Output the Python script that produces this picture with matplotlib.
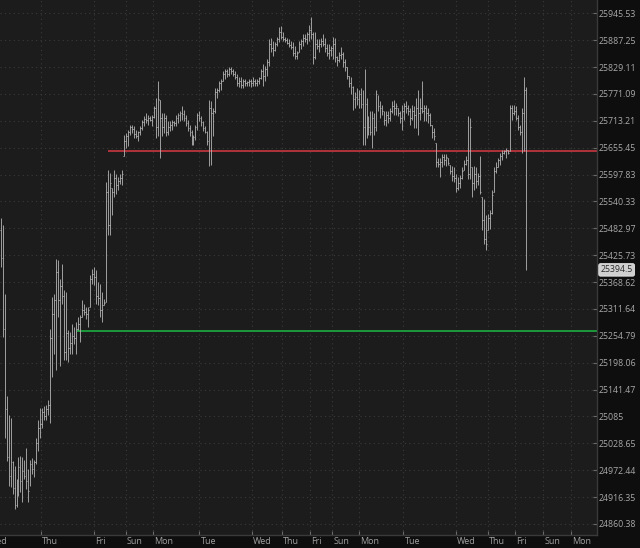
import numpy as np
import matplotlib
matplotlib.use("Agg")
import matplotlib.pyplot as plt
from matplotlib.ticker import FixedLocator, FixedFormatter, NullLocator
from matplotlib.transforms import blended_transform_factory

plt.rcParams["font.family"] = ["Open Sans", "DejaVu Sans"]

# --- OHLC data (one bar per slot) ---
highs = [
    25505, 25490, 25343, 25129, 25088, 25082, 24991, 24982, 24955, 25001,
    25003, 25001, 24993, 25018, 24976, 24993, 24997, 24993, 25039, 25078,
    25103, 25103, 25107, 25110, 25120, 25269, 25337, 25343, 25418, 25415,
    25375, 25407, 25352, 25347, 25267, 25262, 25279, 25273, 25284, 25294,
    25299, 25330, 25322, 25316, 25316, 25384, 25396, 25401, 25394, 25369,
    25364, 25347, 25333,
    25581, 25607, 25602, 25570, 25607, 25598, 25592, 25598, 25607,
    25683, 25687, 25694, 25704, 25704, 25702, 25694, 25692, 25702, 25715,
    25723, 25730, 25725, 25723, 25725, 25745, 25762, 25800, 25757, 25730,
    25730, 25725, 25713, 25713, 25715, 25713, 25725, 25730, 25734, 25745,
    25736, 25725, 25715, 25704, 25694, 25683, 25704, 25730, 25734, 25723,
    25713, 25702, 25692, 25757, 25755, 25740, 25783,
    25783, 25800, 25804, 25821, 25825, 25825, 25830, 25830, 25825, 25821,
    25815, 25808, 25808, 25804, 25804, 25800, 25804, 25804, 25808, 25804,
    25804, 25808, 25825, 25836, 25832, 25847, 25889, 25893, 25885, 25883,
    25895, 25915, 25917, 25906, 25895, 25893, 25889, 25885, 25883, 25874,
    25864, 25885, 25889, 25900, 25900, 25904, 25921, 25938, 25906, 25904,
    25889, 25889, 25893, 25900, 25893, 25878, 25878, 25874, 25895, 25893,
    25853, 25861, 25872, 25861, 25847, 25830, 25810, 25808, 25789,
    25776, 25783, 25779, 25783, 25779, 25825, 25762, 25723, 25734, 25734,
    25730, 25779, 25768, 25755, 25747, 25734, 25734, 25734, 25740, 25755,
    25757, 25751, 25740, 25734, 25747, 25751, 25755, 25747, 25740, 25747,
    25745, 25762, 25779,
    25762, 25800, 25747, 25747, 25740, 25730, 25704, 25698, 25666, 25634,
    25634, 25641, 25641, 25641, 25634, 25619, 25617, 25613, 25598, 25592,
    25596, 25613, 25628, 25638, 25723, 25719, 25613, 25617, 25613, 25602,
    25638, 25549, 25545, 25511, 25513, 25522, 25564, 25613, 25624, 25634,
    25645, 25651, 25651, 25655, 25651, 25747, 25747, 25747, 25745, 25725,
    25704, 25740, 25808, 25787,
]
lows = [
    25400, 25252, 25039, 24991, 24940, 24937, 24923, 24891, 24895, 24918,
    24927, 24906, 24955, 24933, 24906, 24940, 24965, 24959, 24986, 25012,
    25039, 25061, 25078, 25078, 25088, 25071, 25167, 25216, 25182, 25294,
    25192, 25322, 25203, 25203, 25199, 25216, 25216, 25237, 25216, 25267,
    25241, 25294, 25299, 25290, 25273, 25316, 25364, 25362, 25322, 25320,
    25294, 25284, 25320,
    25326, 25468, 25468, 25511, 25549, 25556, 25564, 25577, 25575,
    25638, 25655, 25660, 25683, 25687, 25677, 25677, 25670, 25683, 25694,
    25702, 25709, 25704, 25713, 25702, 25719, 25677, 25681, 25634, 25681,
    25687, 25681, 25683, 25692, 25694, 25702, 25702, 25709, 25713, 25715,
    25713, 25702, 25692, 25681, 25662, 25662, 25672, 25694, 25713, 25702,
    25692, 25687, 25662, 25617, 25619, 25681, 25730,
    25762, 25776, 25779, 25798, 25804, 25808, 25810, 25815, 25810, 25804,
    25789, 25787, 25783, 25783, 25789, 25789, 25789, 25787, 25789, 25789,
    25789, 25793, 25804, 25789, 25798, 25810, 25832, 25861, 25853, 25864,
    25874, 25883, 25889, 25885, 25883, 25878, 25872, 25868, 25853, 25847,
    25847, 25861, 25868, 25874, 25883, 25878, 25885, 25889, 25836, 25847,
    25868, 25861, 25872, 25874, 25861, 25853, 25847, 25853, 25847, 25840,
    25832, 25840, 25847, 25830, 25821, 25804, 25787, 25772, 25736,
    25740, 25747, 25740, 25740, 25662, 25662, 25677, 25683, 25683, 25655,
    25683, 25692, 25734, 25719, 25725, 25704, 25702, 25709, 25713, 25730,
    25725, 25725, 25723, 25709, 25694, 25715, 25730, 25725, 25704, 25715,
    25698, 25698, 25683,
    25715, 25730, 25713, 25713, 25709, 25702, 25677, 25672, 25613, 25613,
    25592, 25613, 25619, 25617, 25619, 25598, 25585, 25581, 25560, 25564,
    25570, 25588, 25607, 25619, 25588, 25588, 25549, 25564, 25570, 25575,
    25556, 25479, 25449, 25437, 25479, 25481, 25513, 25560, 25602, 25613,
    25619, 25628, 25641, 25634, 25641, 25649, 25715, 25725, 25715, 25694,
    25683, 25645, 25649, 25394,
]
closes = [
    25420, 25270, 25100, 25000, 24960, 24990, 24935, 24900, 24940, 24980,
    24950, 24970, 24960, 24950, 24930, 24985, 24975, 24990, 25030, 25060,
    25070, 25095, 25085, 25100, 25110, 25250, 25300, 25330, 25390, 25330,
    25360, 25340, 25220, 25260, 25230, 25240, 25255, 25250, 25270, 25280,
    25295, 25310, 25305, 25300, 25310, 25375, 25385, 25380, 25340, 25335,
    25310, 25320, 25325,
    25560, 25490, 25580, 25560, 25590, 25575, 25585, 25590, 25600,
    25670, 25680, 25690, 25700, 25695, 25685, 25680, 25690, 25698, 25710,
    25718, 25715, 25720, 25716, 25722, 25740, 25700, 25760, 25720, 25700,
    25720, 25690, 25700, 25705, 25710, 25708, 25720, 25725, 25730, 25728,
    25720, 25708, 25698, 25690, 25670, 25678, 25700, 25725, 25720, 25710,
    25698, 25690, 25670, 25740, 25730, 25735, 25775,
    25780, 25795, 25800, 25815, 25820, 25815, 25825, 25820, 25815, 25808,
    25795, 25800, 25790, 25798, 25795, 25796, 25800, 25795, 25800, 25795,
    25798, 25805, 25820, 25810, 25825, 25840, 25880, 25870, 25865, 25878,
    25890, 25905, 25895, 25890, 25888, 25882, 25876, 25872, 25860, 25852,
    25860, 25878, 25885, 25892, 25890, 25900, 25910, 25900, 25850, 25880,
    25875, 25880, 25885, 25880, 25870, 25860, 25865, 25870, 25880, 25850,
    25845, 25855, 25858, 25840, 25830, 25810, 25795, 25785, 25760,
    25765, 25760, 25770, 25750, 25700, 25750, 25700, 25700, 25690, 25720,
    25700, 25770, 25745, 25740, 25735, 25715, 25725, 25720, 25735, 25745,
    25740, 25745, 25730, 25720, 25735, 25745, 25740, 25735, 25720, 25735,
    25725, 25740, 25730,
    25740, 25735, 25740, 25730, 25725, 25705, 25690, 25680, 25625, 25620,
    25625, 25635, 25630, 25635, 25622, 25605, 25595, 25590, 25570, 25580,
    25590, 25605, 25620, 25630, 25600, 25700, 25580, 25600, 25585, 25595,
    25560, 25500, 25460, 25450, 25505, 25515, 25555, 25605, 25615, 25628,
    25638, 25645, 25648, 25650, 25645, 25740, 25730, 25735, 25720, 25700,
    25690, 25730, 25780, 25394.5,
]

# y axis labels (log price scale)
ytick_vals = [25945.53, 25887.25, 25829.11, 25771.09, 25713.21, 25655.45,
              25597.83, 25540.33, 25482.97, 25425.73, 25368.62, 25311.64,
              25254.79, 25198.06, 25141.47, 25085, 25028.65, 24972.44,
              24916.35, 24860.38]
ytick_txt = ["25945.53", "25887.25", "25829.11", "25771.09", "25713.21",
             "25655.45", "25597.83", "25540.33", "25482.97", "25425.73",
             "25368.62", "25311.64", "25254.79", "25198.06", "25141.47",
             "25085", "25028.65", "24972.44", "24916.35", "24860.38"]

# session boundaries, in bar-slot units
day_pos = [-6.5, 20.3, 46.9, 63.0, 76.8, 99.9, 126.5, 141.3, 155.5, 166.8,
           180.3, 202.5, 228.9, 245.0, 258.8, 272.8, 286.9]
day_names = ["Wed", "Thu", "Fri", "Sun", "Mon", "Tue", "Wed", "Thu", "Fri",
             "Sun", "Mon", "Tue", "Wed", "Thu", "Fri", "Sun", "Mon"]

resist = 25648.0   # red level
support = 25266.0  # green level
resist_from = 53.8
support_from = 38.2
last_px = 25394.5

# --- figure ---
W, H = 640, 548
fig = plt.figure(figsize=(W / 100, H / 100), dpi=100)
fig.patch.set_facecolor("#0e0e0e")
ax_right, ax_bottom = 596.5, 535.0
ax = fig.add_axes([0, (H - ax_bottom) / H, ax_right / W, ax_bottom / H])
ax.set_facecolor("#1c1c1c")

n = len(highs)
xs = np.arange(n)
h = np.array(highs, float)
l = np.array(lows, float)
c = np.array(closes, float)
o = np.clip(np.r_[25480.0, c[:-1]], l, h)  # open = prior close

bar_col = "#b4b4b4"
ax.vlines(xs, l, h, color=bar_col, lw=0.6, zorder=3)
ax.hlines(o, xs - 0.45, xs, color=bar_col, lw=0.6, zorder=3)
ax.hlines(c, xs, xs + 0.45, color=bar_col, lw=0.6, zorder=3)

px = 525.0 / (n - 1)
x0, x1 = -0.3, ax_right / px - 0.3
ax.set_xlim(x0, x1)

ax.set_yscale("log")
ax.set_ylim(24837.5, 25974.4)
ax.yaxis.set_major_locator(FixedLocator(ytick_vals))
ax.yaxis.set_major_formatter(FixedFormatter(ytick_txt))
ax.yaxis.set_minor_locator(NullLocator())
ax.yaxis.tick_right()
ax.tick_params(axis="y", direction="in", length=3, color="#6a6a6a",
               labelsize=6.3, labelcolor="#a9a9a9", pad=1.5)

ax.set_xticks([d for d in day_pos if x0 < d < x1])
ax.tick_params(axis="x", direction="in", length=3, color="#6a6a6a",
               labelbottom=False)
tr = blended_transform_factory(ax.transData, ax.transAxes)
for d, name in zip(day_pos, day_names):
    ax.text(d + 0.6, -6.0 / ax_bottom, name, transform=tr, ha="left",
            va="center", fontsize=6.5, color="#a0a0a0", clip_on=False)

ax.grid(True, color="#3a3a3a", linestyle=(0, (1, 3)), lw=0.8)
ax.set_axisbelow(True)

# levels
ax.hlines(resist, resist_from, x1, color="#b0333a", lw=1.4, zorder=2)
ax.hlines(support, support_from, x1, color="#1e9a3c", lw=1.4, zorder=2)

# last price tag
trr = blended_transform_factory(ax.transAxes, ax.transData)
ax.text(1 + 4 / ax_right, last_px, f"{last_px:.1f}", transform=trr,
        ha="left", va="center", fontsize=6.3, color="#2a2a2a",
        bbox=dict(boxstyle="round,pad=0.2", fc="#cfcfcf", ec="#e6e6e6", lw=0.6),
        clip_on=False, zorder=6)

for s in ("left", "top"):
    ax.spines[s].set_visible(False)
for s in ("right", "bottom"):
    ax.spines[s].set_color("#3a3a3a")
    ax.spines[s].set_linewidth(1.0)

fig.savefig("out.png", dpi=100, facecolor=fig.get_facecolor())
